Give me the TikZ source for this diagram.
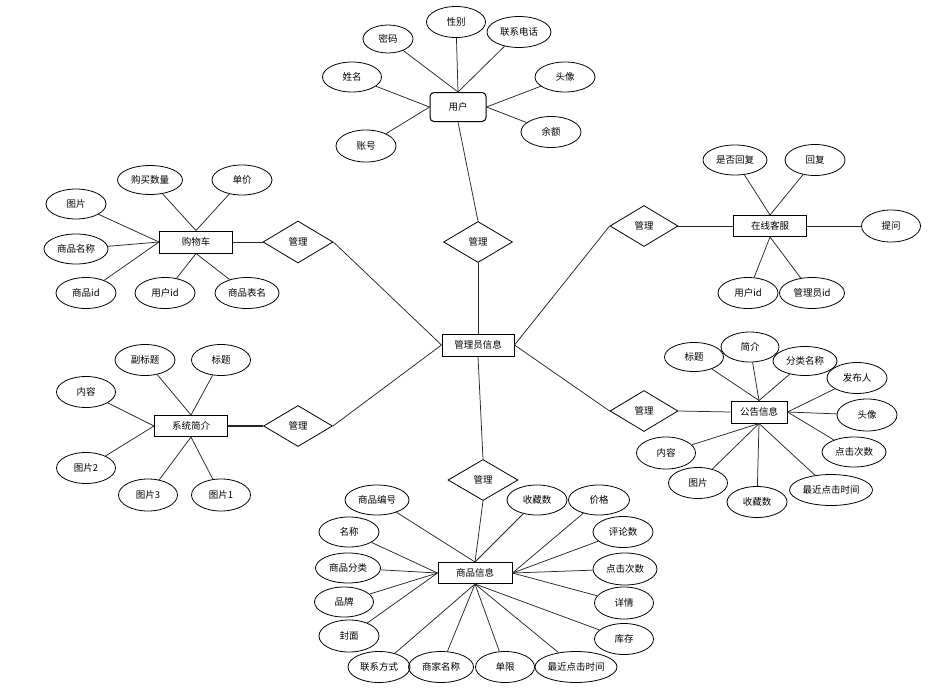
\documentclass[tikz,border=0pt]{standalone}
\usepackage{fontspec}
\newfontfamily\cjk{Noto Sans CJK SC}
\usetikzlibrary{shapes.geometric}
\begin{document}
\begin{tikzpicture}[x=1pt,y=-1pt,
  every node/.style={font=\cjk\fontsize{9.5}{11}\selectfont},
  attr/.style={ellipse, draw=black, line width=0.8pt, minimum width=60pt, minimum height=31pt, inner sep=0pt},
  ent/.style={rectangle, draw=black, line width=1pt, minimum width=73pt, minimum height=22pt, inner sep=0pt},
  rel/.style={diamond, draw=black, line width=0.8pt, minimum width=69pt, minimum height=41pt, inner sep=0pt},
  link/.style={draw=black!85, line width=0.75pt}]
\useasboundingbox (0,0) rectangle (934,688);

% ---------- user ----------
\node[ent, rounded corners=4pt, minimum width=56pt, minimum height=29pt] (user) at (458,107) {用户};
\node[attr, minimum width=50pt, minimum height=28pt] (umm) at (388,39) {密码};
\node[attr, minimum width=59pt] (uxb) at (456,22) {性别};
\node[attr, minimum width=64pt] (udh) at (519,32) {联系电话};
\node[attr, minimum height=30pt] (utx) at (565,77) {头像};
\node[attr] (uye) at (551,132) {余额};
\node[attr, minimum width=59pt, minimum height=30pt] (uxm) at (352,77) {姓名};
\node[attr, minimum height=32pt] (uzh) at (366,146) {账号};
\draw[link] (umm) -- (user.north);
\draw[link] (uxb) -- (user.north);
\draw[link] (udh) -- (user.north);
\draw[link] (utx) -- (user.east);
\draw[link] (uye) -- (user.east);
\draw[link] (uxm) -- (user.west);
\draw[link] (uzh) -- (user.west);

\node[rel] (ruser) at (478,242) {管理};
\node[ent, minimum width=72pt] (admin) at (478,345) {管理员信息};
\draw[link] (user.south) -- (ruser.north);
\draw[link] (ruser.south) -- (admin.north);

% ---------- cart ----------
\node[ent] (cart) at (196,242) {购物车};
\node[rel, minimum width=70pt, minimum height=42pt] (rcart) at (298,242) {管理};
\node[attr, minimum width=65pt, minimum height=29pt] (c1) at (150,180) {购买数量};
\node[attr, minimum height=30pt] (c2) at (242,180) {单价};
\node[attr, minimum height=30pt] (c3) at (76,204) {图片};
\node[attr, minimum width=64pt, minimum height=30pt] (c4) at (76,249) {商品名称};
\node[attr] (c5) at (86,293) {商品id};
\node[attr] (c6) at (165,293) {用户id};
\node[attr, minimum width=64pt] (c7) at (247,293) {商品表名};
\draw[link] (c1) -- (cart.north);
\draw[link] (c2) -- (cart.north);
\draw[link] (c3) -- (cart.west);
\draw[link] (c4) -- (cart.west);
\draw[link] (c5) -- (cart.west);
\draw[link] (c6) -- (cart.south);
\draw[link] (c7) -- (cart.south);
\draw[link] (cart.east) -- (rcart.west);
\draw[link] (rcart.east) -- (admin.west);

% ---------- service ----------
\node[ent, minimum height=21pt] (svc) at (770,226) {在线客服};
\node[rel, minimum width=68pt] (rsvc) at (644,226) {管理};
\node[attr, minimum width=64pt, minimum height=30pt] (s1) at (735,160) {是否回复};
\node[attr] (s2) at (815,160) {回复};
\node[attr, minimum width=59pt, minimum height=32pt] (s3) at (891,226) {提问};
\node[attr] (s4) at (748,293) {用户id};
\node[attr, minimum width=65pt] (s5) at (812,293) {管理员id};
\draw[link] (s1) -- (svc.north);
\draw[link] (s2) -- (svc.north);
\draw[link] (s3) -- (svc.east);
\draw[link] (s4) -- (svc.south);
\draw[link] (s5) -- (svc.south);
\draw[link] (rsvc.east) -- (svc.west);
\draw[link] (rsvc.west) -- (admin.east);

% ---------- system intro ----------
\node[ent, minimum height=21pt] (sys) at (191,426) {系统简介};
\node[rel] (rsys) at (298,426) {管理};
\node[attr] (y1) at (145,360) {副标题};
\node[attr, minimum width=59pt] (y2) at (221,360) {标题};
\node[attr, minimum width=59pt] (y3) at (86,392) {内容};
\node[attr, minimum width=59pt] (y4) at (86,468) {图片2};
\node[attr, minimum width=59pt, minimum height=32pt] (y5) at (148,495) {图片3};
\node[attr, minimum width=59pt, minimum height=32pt] (y6) at (221,495) {图片1};
\draw[link] (y1) -- (sys.north);
\draw[link] (y2) -- (sys.north);
\draw[link] (y3) -- (sys.west);
\draw[link] (y4) -- (sys.west);
\draw[link] (y5) -- (sys.south);
\draw[link] (y6) -- (sys.south);
\draw[link, line width=1.1pt] (sys.east) -- (rsys.west);
\draw[link] (rsys.east) -- (admin.west);

% ---------- notice ----------
\node[ent, minimum width=56pt] (notice) at (759,412) {公告信息};
\node[rel, minimum width=68pt] (rnotice) at (644,411) {管理};
\node[attr, minimum width=59pt, minimum height=29pt] (n1) at (694,357) {标题};
\node[attr, minimum width=58pt, minimum height=30pt] (n2) at (750,347) {简介};
\node[attr, minimum width=64pt, minimum height=29pt] (n3) at (805,361) {分类名称};
\node[attr] (n4) at (857,378) {发布人};
\node[attr, minimum height=32pt] (n5) at (867,415) {头像};
\node[attr, minimum width=64pt, minimum height=30pt] (n6) at (854,452) {点击次数};
\node[attr, minimum width=83pt] (n7) at (831,490) {最近点击时间};
\node[attr] (n8) at (757,502) {收藏数};
\node[attr, minimum width=59pt] (n9) at (698,483) {图片};
\node[attr, minimum width=59pt, minimum height=32pt] (n10) at (666,453) {内容};
\draw[link] (n1) -- (notice.north);
\draw[link] (n2) -- (notice.north);
\draw[link] (n3) -- (notice.north);
\draw[link] (n4) -- (notice.east);
\draw[link] (n5) -- (notice.east);
\draw[link] (n6) -- (notice.east);
\draw[link] (n7) -- (notice.south);
\draw[link] (n8) -- (notice.south);
\draw[link] (n9) -- (notice.south);
\draw[link] (n10) -- (notice.south);
\draw[link] (rnotice.east) -- (notice.west);
\draw[link] (rnotice.west) -- (admin.east);

% ---------- goods ----------
\node[ent, minimum width=74pt, minimum height=21pt] (goods) at (475,573) {商品信息};
\node[rel, minimum width=70pt] (rgoods) at (483,480) {管理};
\node[attr, minimum width=64pt, minimum height=30pt] (g1) at (377,500) {商品编号};
\node[attr, minimum height=30pt] (g2) at (349,532) {名称};
\node[attr, minimum width=65pt, minimum height=30pt] (g3) at (348,568) {商品分类};
\node[attr, minimum width=59pt, minimum height=30pt] (g4) at (344,602) {品牌};
\node[attr, minimum height=32pt] (g5) at (349,636) {封面};
\node[attr, minimum width=62pt] (g6) at (379,667) {联系方式};
\node[attr, minimum width=65pt] (g7) at (441,667) {商家名称};
\node[attr, minimum width=59pt] (g8) at (505,667) {单限};
\node[attr, minimum width=82pt] (g9) at (576,667) {最近点击时间};
\node[attr, minimum height=30pt] (g10) at (537,500) {收藏数};
\node[attr, minimum width=61pt, minimum height=30pt] (g11) at (599,500) {价格};
\node[attr] (g12) at (623,532) {评论数};
\node[attr, minimum width=64pt, minimum height=32pt] (g13) at (625,569) {点击次数};
\node[attr, minimum width=59pt, minimum height=32pt] (g14) at (624,603) {详情};
\node[attr, minimum width=59pt] (g15) at (624,639) {库存};
\draw[link] (g1) -- (goods.north);
\draw[link] (g10) -- (goods.north);
\draw[link] (g2) -- (goods.west);
\draw[link] (g3) -- (goods.west);
\draw[link] (g4) -- (goods.west);
\draw[link] (g5) -- (goods.west);
\draw[link] (g6) -- (goods.south);
\draw[link] (g7) -- (goods.south);
\draw[link] (g8) -- (goods.south);
\draw[link] (g9) -- (goods.south);
\draw[link] (g15) -- (goods.south);
\draw[link] (g11) -- (goods.east);
\draw[link] (g12) -- (goods.east);
\draw[link] (g13) -- (goods.east);
\draw[link] (g14) -- (goods.east);
\draw[link] (goods.north) -- (rgoods.south);
\draw[link] (rgoods.north) -- (admin.south);
\end{tikzpicture}
\end{document}
